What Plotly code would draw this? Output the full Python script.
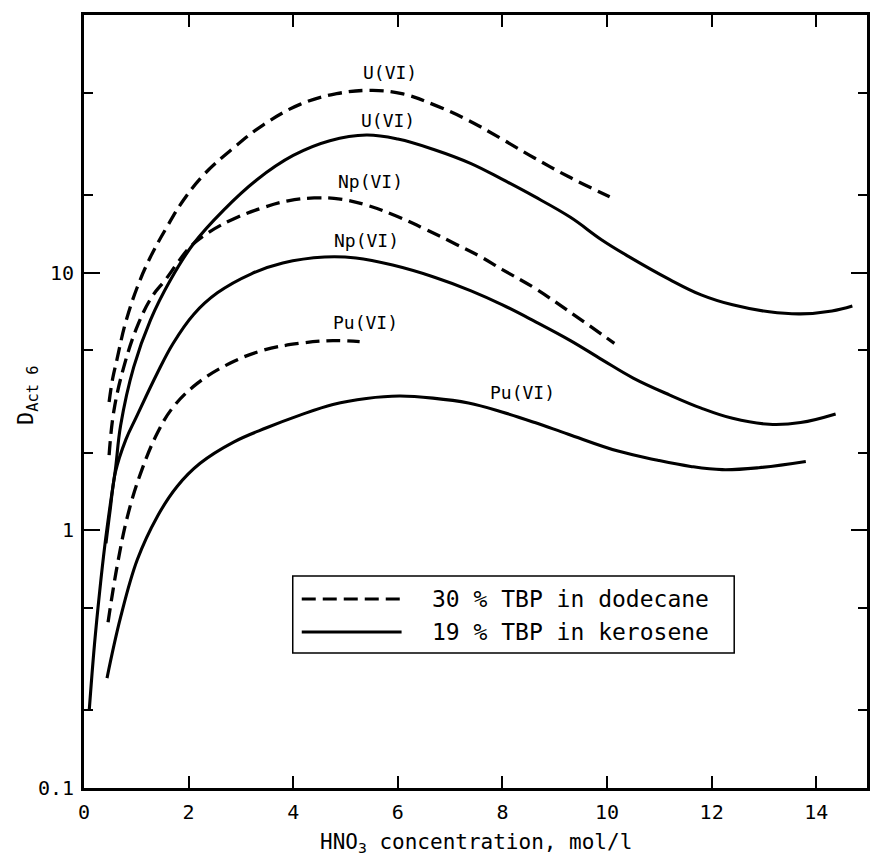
import math
import plotly.graph_objects as go

# HNO3 concentration (mol/l) and distribution ratios D for hexavalent actinides
# 30 % TBP in dodecane (dashed curves)
u_dod_x = [0.48, 0.55, 0.63, 0.79, 1.02, 1.27, 1.59, 1.90, 2.29, 2.86, 3.43, 4.13,
           4.83, 5.52, 6.10, 6.73, 7.35, 7.99, 8.62, 9.26, 10.05]
u_dod_y = [3.15, 3.9, 4.6, 6.35, 8.8, 11.5, 15.1, 19.1, 24.0, 30.5, 37.5, 45.0,
           49.5, 51.0, 49.4, 44.5, 39.0, 33.0, 27.8, 23.6, 19.7]

np_dod_x = [0.48, 0.57, 0.76, 1.02, 1.30, 1.56, 1.80, 2.03, 2.40, 2.90, 3.43, 3.90,
            4.40, 4.90, 5.40, 5.97, 6.54, 7.11, 7.56, 7.99, 8.62, 9.26, 10.14]
np_dod_y = [1.96, 2.9, 4.3, 6.2, 8.07, 9.4, 11.0, 12.6, 14.4, 16.3, 17.9, 19.0,
            19.5, 19.3, 18.3, 16.6, 14.7, 12.9, 11.6, 10.3, 8.7, 7.1, 5.32]

pu_dod_x = [0.46, 0.63, 0.83, 1.08, 1.40, 1.70, 2.16, 2.79, 3.43, 4.13, 4.76, 5.27]
pu_dod_y = [0.44, 0.72, 1.13, 1.66, 2.38, 3.0, 3.71, 4.45, 5.0, 5.32, 5.45, 5.40]

# 19 % TBP in kerosene (solid curves)
u_ker_x = [0.10, 0.20, 0.30, 0.40, 0.50, 0.60, 0.70, 0.95, 1.27, 1.65, 2.10, 2.67,
           3.30, 4.00, 4.70, 5.40, 6.00, 6.70, 7.40, 8.00, 8.60, 9.30, 9.90, 10.40,
           11.20, 11.80, 12.40, 13.10, 13.70, 14.30, 14.69]
u_ker_y = [0.20, 0.36, 0.58, 0.88, 1.25, 1.72, 2.55, 4.3, 6.55, 9.35, 13.0, 17.5,
           22.9, 28.5, 32.5, 34.2, 33.0, 30.0, 26.5, 23.0, 19.8, 16.4, 13.4, 11.6,
           9.4, 8.2, 7.5, 7.05, 6.92, 7.1, 7.42]

np_ker_x = [0.42, 0.50, 0.60, 0.80, 1.00, 1.40, 1.70, 2.10, 2.55, 3.20, 3.80, 4.60,
            5.20, 5.90, 6.70, 7.40, 8.00, 8.60, 9.30, 9.90, 10.50, 11.20, 11.80,
            12.40, 13.10, 13.70, 14.37]
np_ker_y = [0.89, 1.20, 1.68, 2.25, 2.75, 4.07, 5.3, 6.9, 8.35, 9.9, 10.9, 11.5,
            11.4, 10.7, 9.6, 8.5, 7.5, 6.5, 5.45, 4.6, 3.9, 3.35, 2.98,
            2.72, 2.58, 2.62, 2.83]

pu_ker_x = [0.44, 0.70, 1.02, 1.40, 1.78, 2.22, 2.86, 3.49, 4.13, 4.76, 5.40, 6.03,
            6.67, 7.35, 7.99, 8.62, 9.26, 10.21, 10.97, 11.60, 12.20, 12.90, 13.80]
pu_ker_y = [0.267, 0.46, 0.77, 1.13, 1.48, 1.82, 2.20, 2.50, 2.80, 3.08, 3.25, 3.32,
            3.26, 3.12, 2.88, 2.62, 2.36, 2.03, 1.87, 1.77, 1.72, 1.75, 1.85]

# curve labels: text, x, y
label_text = ["U(VI)", "U(VI)", "Np(VI)", "Np(VI)", "Pu(VI)", "Pu(VI)"]
label_x = [5.85, 5.81, 5.47, 5.41, 5.39, 8.38]
label_y = [60, 39, 22.6, 13.3, 6.4, 3.44]

x_ticks = [0, 2, 4, 6, 8, 10, 12, 14]
y_ticks = [0.1, 1, 10]
y_ticktext = ["0.1", "1", "10"]
y_minor = [0.2, 0.5, 2, 5, 20, 50]

legend_dod = "30 % TBP in dodecane"
legend_ker = "19 % TBP in kerosene"

FONT = "DejaVu Sans Mono, DejaVu Sans, monospace"
DASH = "14px,7px"

fig = go.Figure()

dashed = [(u_dod_x, u_dod_y), (np_dod_x, np_dod_y), (pu_dod_x, pu_dod_y)]
for xs, ys in dashed:
    fig.add_trace(go.Scatter(
        x=xs, y=ys, mode="lines", name=legend_dod, showlegend=False,
        line=dict(color="black", width=3.3, dash=DASH, shape="spline", smoothing=1.1)))

solid = [(u_ker_x, u_ker_y), (np_ker_x, np_ker_y), (pu_ker_x, pu_ker_y)]
for xs, ys in solid:
    fig.add_trace(go.Scatter(
        x=xs, y=ys, mode="lines", name=legend_ker, showlegend=False,
        line=dict(color="black", width=3.1, shape="spline", smoothing=1.1)))

# curve labels (log axis: annotation y is given as log10)
for t, lx, ly in zip(label_text, label_x, label_y):
    fig.add_annotation(x=lx, y=math.log10(ly), text=t, showarrow=False,
                       font=dict(family=FONT, size=18, color="black"))

# axis titles
fig.add_annotation(xref="paper", yref="paper", x=0.5, y=-0.071,
                   text="HNO<sub>3</sub> concentration, mol/l", showarrow=False,
                   font=dict(family=FONT, size=21, color="black"),
                   xanchor="center", yanchor="middle")
fig.add_annotation(xref="paper", yref="paper", x=-0.072, y=0.508,
                   text="D<sub>Act 6</sub>", showarrow=False, textangle=-90,
                   font=dict(family=FONT, size=22, color="black"),
                   xanchor="center", yanchor="middle")

# key box with line samples and texts
key_box = dict(x0=0.2666, x1=0.8304, y0=0.1746, y1=0.2743)
key_rows = [(0.2445, DASH, legend_dod), (0.2018, "solid", legend_ker)]
fig.add_shape(type="rect", xref="paper", yref="paper", **key_box,
              line=dict(color="black", width=1.5), fillcolor="white", layer="above")
for ky, kdash, ktext in key_rows:
    fig.add_shape(type="line", xref="paper", yref="paper", x0=0.2781, x1=0.4056,
                  y0=ky, y1=ky, line=dict(color="black", width=3, dash=kdash),
                  layer="above")
    fig.add_annotation(xref="paper", yref="paper", x=0.4413, y=ky, text=ktext,
                       showarrow=False, xanchor="left", yanchor="middle",
                       font=dict(family=FONT, size=23, color="black"))

fig.update_xaxes(range=[0, 14.97], tickvals=x_ticks, ticks="inside", ticklen=12,
                 tickwidth=2, tickcolor="black", showline=True, linewidth=3,
                 linecolor="black", mirror="ticks", showgrid=False, zeroline=False,
                 ticklabelstandoff=4,
                 tickfont=dict(family=FONT, size=20, color="black"))
fig.update_yaxes(type="log", range=[-1, 2], tickvals=y_ticks, ticktext=y_ticktext,
                 ticks="inside", ticklen=16, tickwidth=2, tickcolor="black",
                 showline=True, linewidth=3, linecolor="black", mirror="ticks",
                 showgrid=False, zeroline=False, ticklabelstandoff=3,
                 tickfont=dict(family=FONT, size=20, color="black"),
                 minor=dict(tickvals=y_minor, ticks="inside", ticklen=9,
                            tickwidth=2, tickcolor="black", showgrid=False))

fig.update_layout(
    width=870, height=860,
    margin=dict(l=84, r=0, t=15, b=72),
    paper_bgcolor="white", plot_bgcolor="white",
    showlegend=False,
)

fig.write_html("out.html")
